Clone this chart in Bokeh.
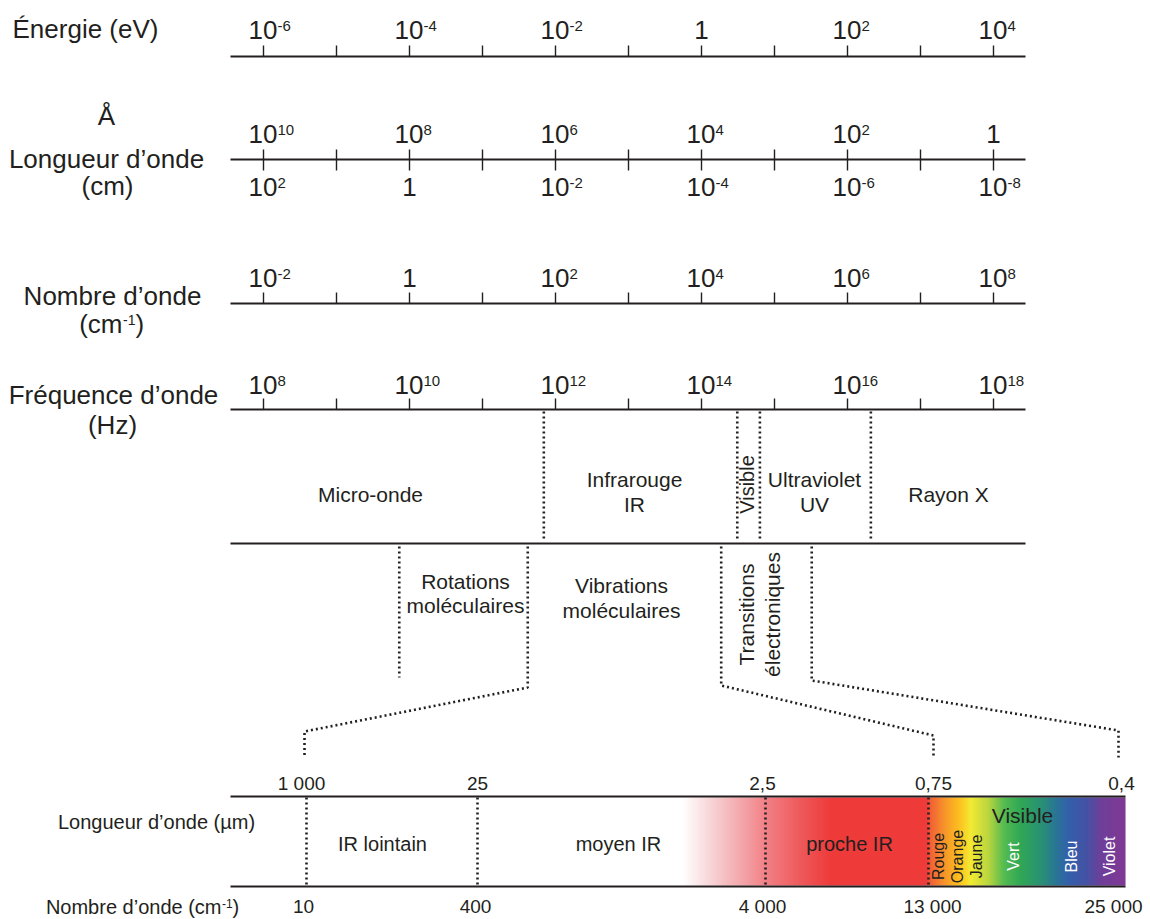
import numpy as np
from bokeh.plotting import figure
from bokeh.models import Range1d, ColumnDataSource
from bokeh.embed import file_html
from bokeh.resources import INLINE
from bokeh.core.properties import value

# ------------------------------------------------------------------ data
energy_exponents = [-6, -4, -2, 0, 2, 4]          # eV
angstrom_exponents = [10, 8, 6, 4, 2, 0]          # Å
cm_exponents = [2, 0, -2, -4, -6, -8]             # cm
wavenumber_exponents = [-2, 0, 2, 4, 6, 8]        # cm-1
frequency_exponents = [8, 10, 12, 14, 16, 18]     # Hz

domain_names = [["Micro-onde"], ["Infrarouge", "IR"], ["Visible"],
                ["Ultraviolet", "UV"], ["Rayon X"]]
domain_bounds_log_hz = [11.84, 14.49, 14.80, 16.32]

transition_names = [["Rotations", "moléculaires"], ["Vibrations", "moléculaires"],
                    ["Transitions", "électroniques"]]
transition_bounds_log_hz = [9.86, 11.62, 14.27, 15.51]

band_wavelength_um = ["1 000", "25", "2,5", "0,75", "0,4"]
band_wavenumber_cm = ["10", "400", "4 000", "13 000", "25 000"]
band_regions = ["IR lointain", "moyen IR", "proche IR"]
visible_colors = ["Rouge", "Orange", "Jaune", "Vert", "Bleu", "Violet"]

# ------------------------------------------------------------------ layout / style
FONT = "Liberation Sans"
INK = "#231f20"
AX_X0, AX_X1 = 230, 1025
X_1E8, PX_DEC = 263, 73


def xf(logf):
    return X_1E8 + (logf - 8) * PX_DEC


p = figure(width=1150, height=919, x_range=Range1d(0, 1150), y_range=Range1d(919, 0),
           output_backend="svg", toolbar_location=None,
           x_axis_type=None, y_axis_type=None, min_border=0)
p.outline_line_color = None
p.background_fill_color = "white"

texts = {}


def add_text(x, y, s, size, align="center", angle=0.0, color=INK):
    key = (size, align, angle, color)
    d = texts.setdefault(key, dict(x=[], y=[], text=[]))
    d["x"].append(x)
    d["y"].append(y)
    d["text"].append(s)


def pow10(xc, e, yc, size=26, esize=15, rise=4):
    if e == 0:
        add_text(xc, yc, "1", size)
    else:
        add_text(xc + 14, yc, "10", size, align="right")
        add_text(xc + 14, yc - rise, str(e), esize, align="left")


# ---------------- band gradient (drawn first)
grad_x = [682, 720, 765, 800, 830, 926, 930, 945, 958, 970, 988, 1003, 1020, 1040,
          1055, 1068, 1085, 1100, 1125]
grad_c = ["#ffffff", "#f5c2c5", "#f07a80", "#ee5052", "#ee3130", "#ee3130", "#f15a2b",
          "#f7941d", "#fdbb14", "#f2e928", "#b3d235", "#4cb848", "#25a24c", "#1f8b6e",
          "#1d6f8f", "#2a56a6", "#3a4aa0", "#673594", "#7a2e8e"]
rgb = np.array([[int(c[i:i + 2], 16) for i in (1, 3, 5)] for c in grad_c], dtype=float)
cols_x = np.arange(grad_x[0], grad_x[-1], 1.0)
cols = []
for xx in cols_x:
    r = np.interp(xx, grad_x, rgb[:, 0])
    g = np.interp(xx, grad_x, rgb[:, 1])
    b = np.interp(xx, grad_x, rgb[:, 2])
    cols.append("#%02x%02x%02x" % (int(round(r)), int(round(g)), int(round(b))))
p.quad(left=cols_x, right=np.minimum(cols_x + 1.4, grad_x[-1]), top=797, bottom=885,
       fill_color=cols, line_color=None)

# ---------------- top scales
majors = [xf(e) for e in frequency_exponents]
minors = [xf(e + 1) for e in frequency_exponents[:-1]]
ticks = majors + minors

rows = [  # line y, tick y0, tick y1
    (56, 45, 56),
    (159, 149, 170),
    (303, 292, 303),
    (409, 398, 409),
]
for ly, t0, t1 in rows:
    p.segment(x0=[AX_X0], y0=[ly], x1=[AX_X1], y1=[ly], line_color=INK, line_width=1.8)
    p.segment(x0=ticks, y0=[t0] * len(ticks), x1=ticks, y1=[t1] * len(ticks),
              line_color=INK, line_width=1.4)

for i, x in enumerate(majors):
    pow10(x, energy_exponents[i], 29)
    pow10(x, angstrom_exponents[i], 133)
    pow10(x, cm_exponents[i], 186)
    pow10(x, wavenumber_exponents[i], 277)
    pow10(x, frequency_exponents[i], 384)

# left labels
LS = 26
add_text(85, 28, "Énergie (eV)", LS)
add_text(106, 115, "Å", LS)
add_text(106, 158.5, "Longueur d’onde", LS)
add_text(107, 185.5, "(cm)", LS)
add_text(112, 295.5, "Nombre d’onde", LS)
add_text(122, 323.5, "(cm", LS, align="right")
add_text(122.5, 319, "-1", 14, align="left")
add_text(135, 323.5, ")", LS, align="left")
add_text(113, 394.5, "Fréquence d’onde", LS)
add_text(112, 424.5, "(Hz)", LS)

# ---------------- spectral domains
dom_x = [xf(b) for b in domain_bounds_log_hz]
dots = "2 3"
DW = 2.6
p.segment(x0=dom_x, y0=[411] * 4, x1=dom_x, y1=[541] * 4,
          line_color=INK, line_width=DW, line_dash=dots)
p.segment(x0=[AX_X0], y0=[543], x1=[AX_X1], y1=[543], line_color=INK, line_width=1.8)

dom_label_x = [370, 634, 746, 814, 948]
for name, lx in zip(domain_names, dom_label_x):
    if name[0] == "Visible":
        add_text(lx, 484, name[0], 20, angle=np.pi / 2)
    elif len(name) == 1:
        add_text(lx, 493.5, name[0], 21)
    else:
        add_text(lx, 478.5, name[0], 21)
        add_text(lx, 503.5, name[1], 21)

# ---------------- transitions
tr_x = [xf(b) for b in transition_bounds_log_hz]
zoom_end_x = [304, 933, 1118]
elbow_y = [687, 685, 680]
diag_y = [731, 735, 730]
xs = [[tr_x[0], tr_x[0]]]
ys = [[546, 677]]
for bx, ex, ey, dy in zip(tr_x[1:], zoom_end_x, elbow_y, diag_y):
    xs.append([bx, bx, ex, ex])
    ys.append([546, ey, dy, 757])
p.multi_line(xs=xs, ys=ys, line_color=INK, line_width=DW, line_dash=dots)

add_text(465, 580.5, transition_names[0][0], 21)
add_text(465, 604.5, transition_names[0][1], 21)
add_text(621, 584.5, transition_names[1][0], 21)
add_text(621, 609.5, transition_names[1][1], 21)
add_text(746, 614, transition_names[2][0], 21, angle=np.pi / 2)
add_text(772, 614, transition_names[2][1], 21, angle=np.pi / 2)

# ---------------- IR / visible band
BAND_X0, BAND_X1, BAND_TOP, BAND_BOT = 230, 1125, 796, 886
p.segment(x0=[BAND_X0, BAND_X0], y0=[BAND_TOP, BAND_BOT], x1=[BAND_X1, BAND_X1],
          y1=[BAND_TOP, BAND_BOT], line_color=INK, line_width=2)
band_div_x = [306, 477, 765, 928]
p.segment(x0=band_div_x, y0=[BAND_TOP + 1] * 4, x1=band_div_x, y1=[BAND_BOT - 1] * 4,
          line_color=INK, line_width=DW, line_dash=dots)

wl_label_x = [301, 477, 762, 933, 1121]
wn_label_x = [303, 475, 762, 932, 1113]
for s, x in zip(band_wavelength_um, wl_label_x):
    add_text(x, 782.5, s, 19)
for s, x in zip(band_wavenumber_cm, wn_label_x):
    add_text(x, 906, s, 19)

add_text(156, 821, "Longueur d’onde (µm)", 20)
add_text(221, 906, "Nombre d’onde (cm", 20, align="right")
add_text(221.5, 903, "-1", 12, align="left")
add_text(232, 906, ")", 20, align="left")

for s, x in zip(band_regions, [382, 618, 849]):
    add_text(x, 843, s, 20)
add_text(1022, 814.5, "Visible", 21)

vis_x = [938, 957, 976, 1013, 1071, 1109]
vis_col = [INK, INK, INK, "white", "white", "white"]
for s, x, c in zip(visible_colors, vis_x, vis_col):
    add_text(x, 856, s, 16, angle=np.pi / 2, color=c)

# ---------------- render texts
for (size, align, angle, color), d in texts.items():
    p.text(x="x", y="y", text="text", source=ColumnDataSource(d),
           text_font=value(FONT), text_font_size=f"{size}px", text_align=align,
           text_baseline="middle", angle=angle, text_color=color)

open("out.html", "w").write(file_html(p, INLINE))
